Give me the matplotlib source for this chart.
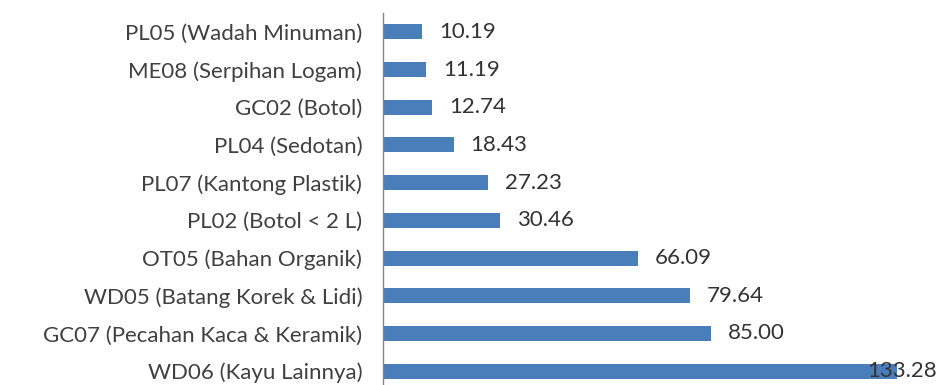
import matplotlib.pyplot as plt

# litter categories and their values (top to bottom)
categories = [
    'PL05 (Wadah Minuman)',
    'ME08 (Serpihan Logam)',
    'GC02 (Botol)',
    'PL04 (Sedotan)',
    'PL07 (Kantong Plastik)',
    'PL02 (Botol < 2 L)',
    'OT05 (Bahan Organik)',
    'WD05 (Batang Korek & Lidi)',
    'GC07 (Pecahan Kaca & Keramik)',
    'WD06 (Kayu Lainnya)',
]
values = [10.19, 11.19, 12.74, 18.43, 27.23, 30.46, 66.09, 79.64, 85.00, 133.28]

plt.rcParams['font.family'] = ['Lato', 'DejaVu Sans']

W, H = 951, 385
fig = plt.figure(figsize=(W / 100, H / 100), dpi=100)
# axes placed in pixel terms: left edge at 383 px, rows ~37.7 px apart
ax = fig.add_axes([383 / W, (H - 390) / H, 540 / W, (390 - 13) / H])

pos = list(range(len(categories)))
ax.barh(pos, values, height=0.4, color='#4a7ebb')
ax.set_ylim(len(categories) - 0.5, -0.5)
ax.set_xlim(0, 140)

ax.set_yticks(pos)
ax.set_yticklabels(categories, fontsize=16, color='#404040')
ax.tick_params(axis='y', length=0, pad=15)
ax.set_xticks([])

for s in ['top', 'right', 'bottom']:
    ax.spines[s].set_visible(False)
ax.spines['left'].set_color('#868686')
ax.spines['left'].set_linewidth(1)

# value labels just past each bar end; the longest one is pulled back inside
for p, v in zip(pos, values):
    x = min(v + 4.3, 125.5)
    ax.text(x, p, f'{v:.2f}', va='center', ha='left', fontsize=16, color='#333333')

fig.savefig('out.png', dpi=100)
